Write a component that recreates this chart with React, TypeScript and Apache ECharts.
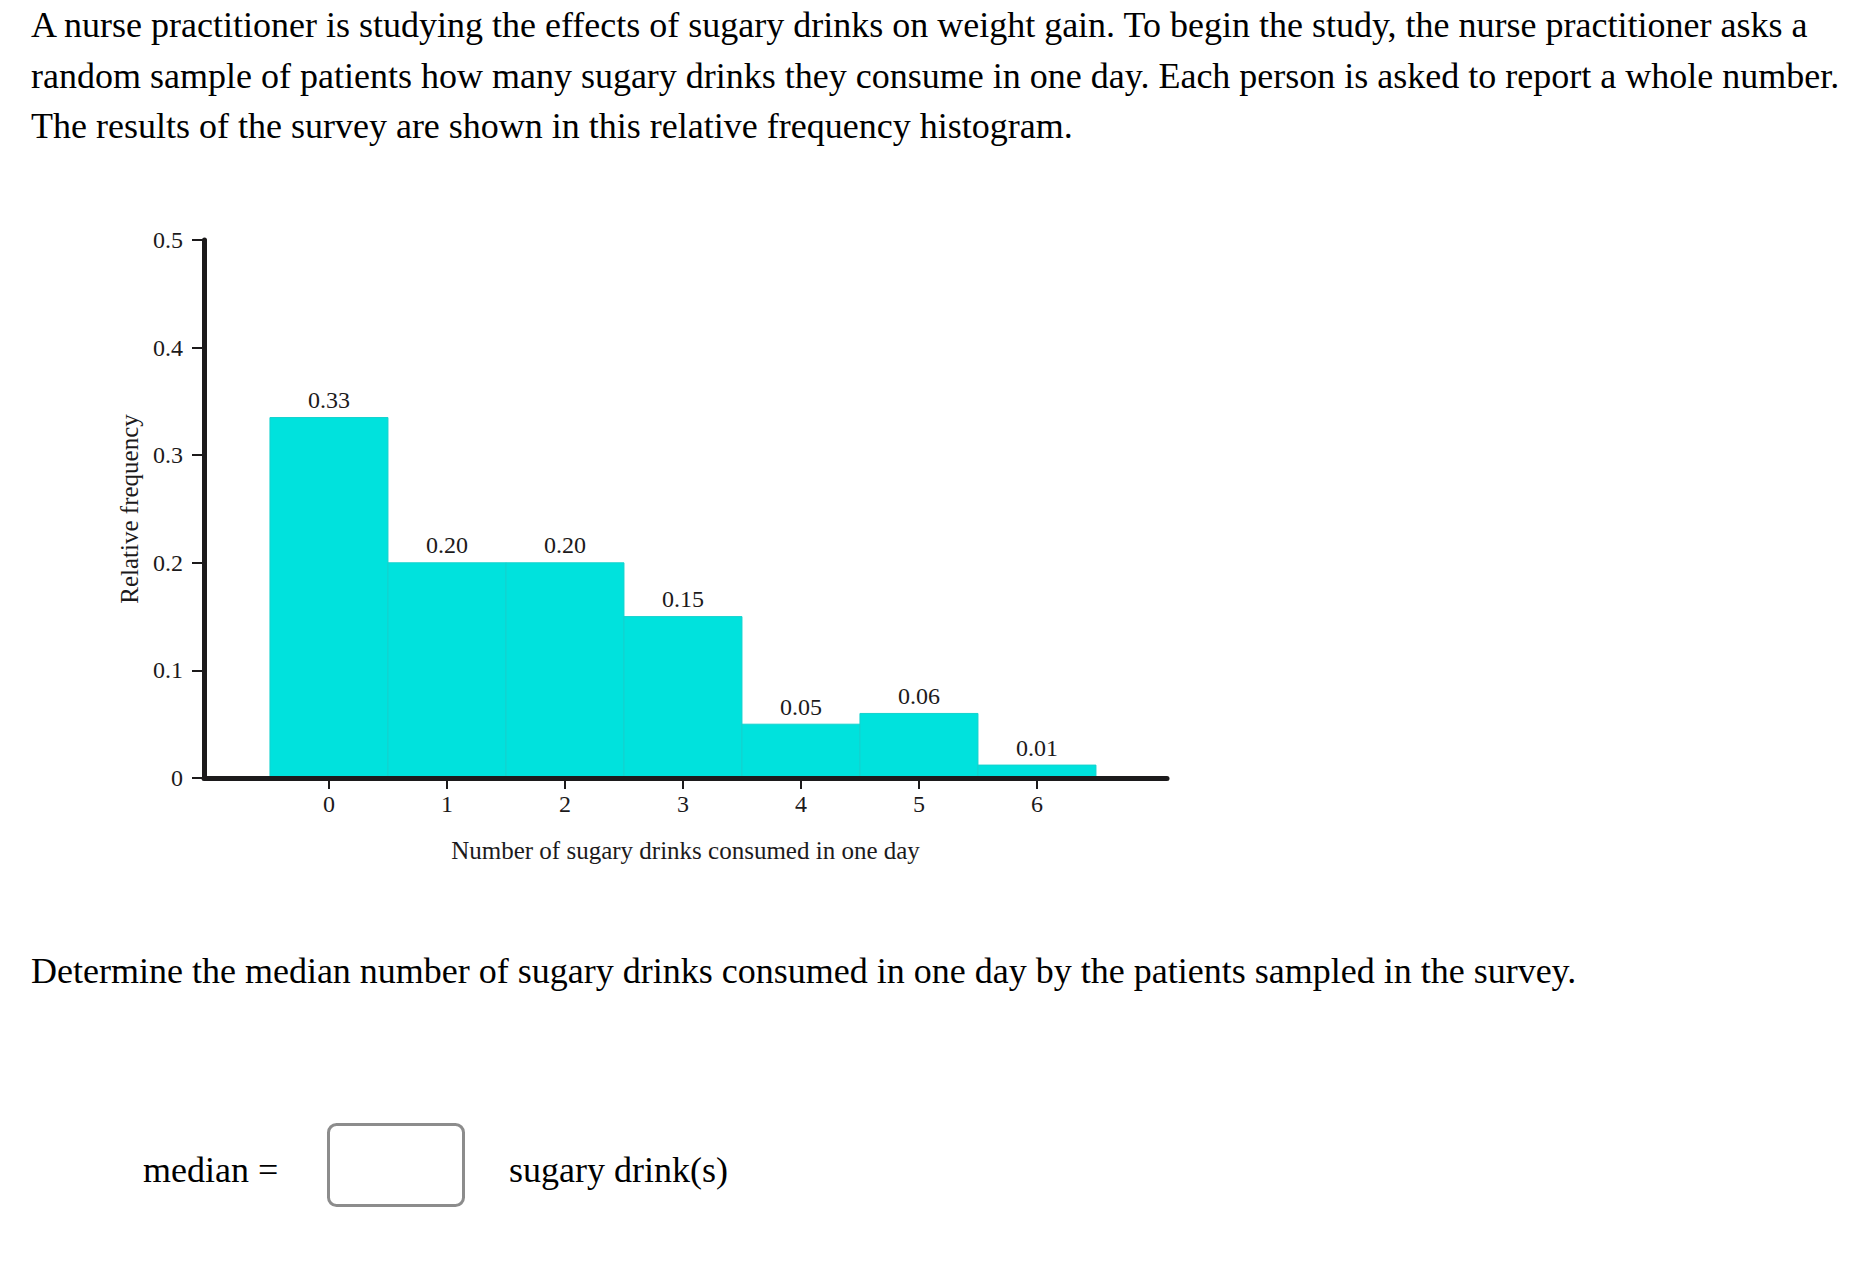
import React, { useEffect, useRef } from "react";
import * as echarts from "echarts";

const questionLines = [
  "A nurse practitioner is studying the effects of sugary drinks on weight gain. To begin the study, the nurse practitioner asks a",
  "random sample of patients how many sugary drinks they consume in one day. Each person is asked to report a whole number.",
  "The results of the survey are shown in this relative frequency histogram.",
];
const promptText =
  "Determine the median number of sugary drinks consumed in one day by the patients sampled in the survey.";
const answerLabel = "median =";
const unitLabel = "sugary drink(s)";

const drinkCounts = [0, 1, 2, 3, 4, 5, 6];
const relFreq = [0.335, 0.2, 0.2, 0.15, 0.05, 0.06, 0.012];
const barLabels = ["0.33", "0.20", "0.20", "0.15", "0.05", "0.06", "0.01"];
const xAxisTitle = "Number of sugary drinks consumed in one day";
const yAxisTitle = "Relative frequency";

const SERIF = "Liberation Serif";
const INK = "#1c1a1b";

export default function App() {
  const ref = useRef<HTMLDivElement>(null);
  useEffect(() => {
    if (!ref.current) return;
    const chart = echarts.init(ref.current, null, { renderer: "svg" });
    const data = drinkCounts.map((c, i) => [c, relFreq[i]]);
    const lineYs = [25, 76, 126];
    const textStyle = (t: string) => ({
      text: t,
      fontSize: 36,
      fontFamily: SERIF,
      fill: "#000",
      verticalAlign: "middle",
    });
    const graphics: any[] = questionLines.map((t, i) => ({
      type: "text",
      x: 31,
      y: lineYs[i],
      style: textStyle(t),
    }));
    graphics.push(
      { type: "text", x: 31, y: 971, style: textStyle(promptText) },
      { type: "text", x: 143, y: 1170, style: textStyle(answerLabel) },
      {
        type: "rect",
        shape: { x: 328.5, y: 1124.5, width: 135, height: 81, r: 8 },
        style: { fill: "#fff", stroke: "#8c8c8c", lineWidth: 3 },
      },
      { type: "text", x: 509, y: 1170, style: textStyle(unitLabel) }
    );

    chart.setOption({
      animation: false,
      backgroundColor: "#fff",
      textStyle: { fontFamily: SERIF },
      grid: { left: 204, top: 240, width: 963, height: 538, containLabel: false },
      graphic: graphics,
      xAxis: {
        type: "value",
        min: -1.059,
        max: 7.102,
        z: 5,
        name: xAxisTitle,
        nameLocation: "middle",
        nameGap: 60,
        nameTextStyle: { fontSize: 25, color: INK, fontFamily: SERIF },
        axisLine: { show: true, onZero: true, lineStyle: { color: INK, width: 5 } },
        axisTick: {
          show: true,
          customValues: drinkCounts,
          length: 11,
          lineStyle: { color: INK, width: 2 },
        },
        axisLabel: {
          customValues: drinkCounts,
          fontSize: 24,
          color: INK,
          fontFamily: SERIF,
          margin: 14,
        },
        splitLine: { show: false },
      },
      yAxis: {
        type: "value",
        min: 0,
        max: 0.5,
        interval: 0.1,
        z: 5,
        name: yAxisTitle,
        nameLocation: "middle",
        nameGap: 57,
        nameRotate: 90,
        nameTextStyle: { fontSize: 25, color: INK, fontFamily: SERIF },
        axisLine: { show: true, onZero: false, lineStyle: { color: INK, width: 5 } },
        axisTick: { show: true, length: 12, lineStyle: { color: INK, width: 2 } },
        axisLabel: {
          fontSize: 24,
          color: INK,
          fontFamily: SERIF,
          margin: 21,
          formatter: (v: number) => (v === 0 ? "0" : v.toFixed(1)),
        },
        splitLine: { show: false },
      },
      series: [
        {
          type: "custom",
          z: 1,
          data,
          renderItem: (params: any, api: any) => {
            const x = api.value(0);
            const y = api.value(1);
            const p0 = api.coord([x - 0.5, y]);
            const p1 = api.coord([x + 0.5, 0]);
            return {
              type: "rect",
              shape: { x: p0[0], y: p0[1], width: p1[0] - p0[0], height: p1[1] - p0[1] },
              style: { fill: "#00E2DD", stroke: "#14d2ce", lineWidth: 1 },
              textContent: {
                style: {
                  text: barLabels[params.dataIndex],
                  fontSize: 24,
                  fontFamily: SERIF,
                  fill: INK,
                },
              },
              textConfig: { position: "top", distance: 5 },
            };
          },
        },
      ],
    });
    return () => chart.dispose();
  }, []);
  return (
    <div
      ref={ref}
      style={{ position: "absolute", left: 0, top: 0, width: 1874, height: 1274, background: "#fff" }}
    />
  );
}
